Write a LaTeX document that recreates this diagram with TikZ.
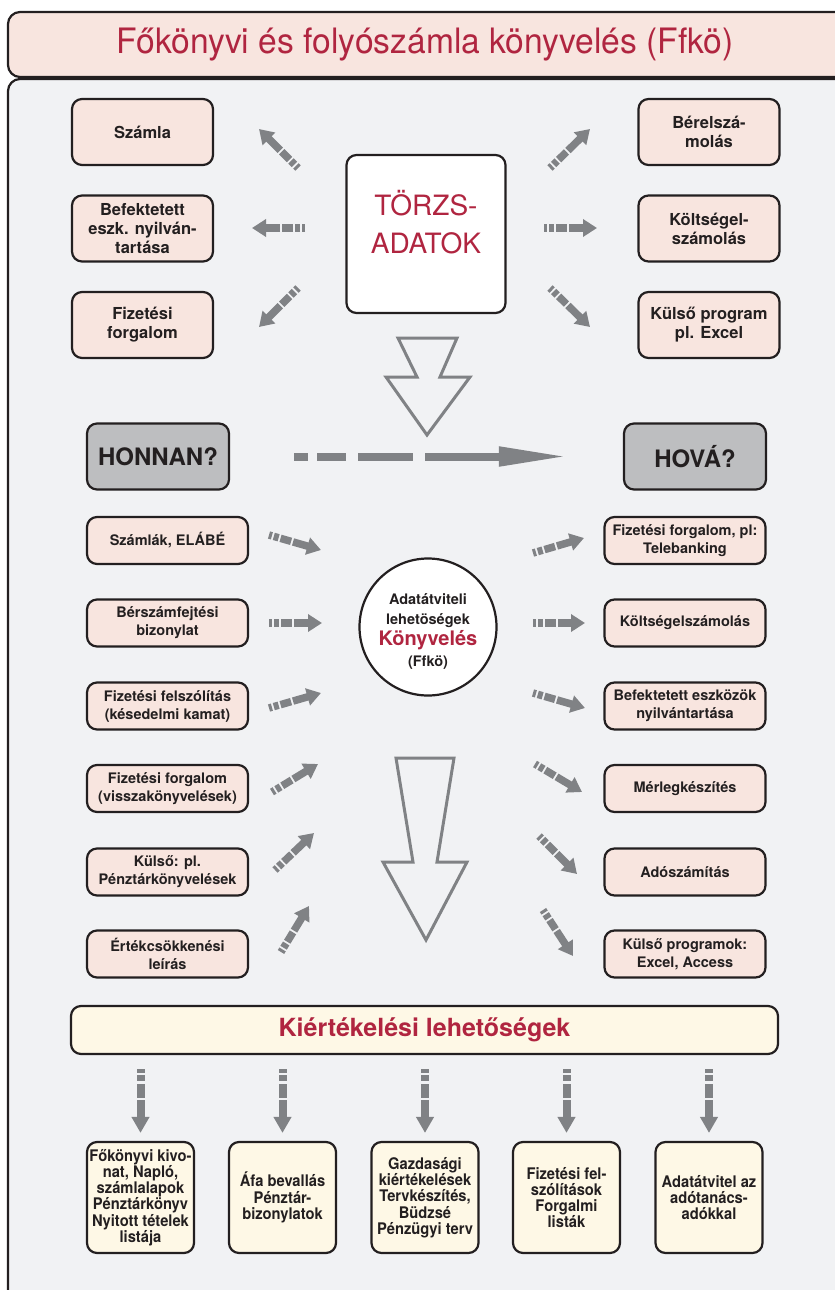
\documentclass[tikz,border=0pt]{standalone}
\usepackage{fontspec}
\setmainfont{TeX Gyre Heros}
\newfontfamily\condfont[FakeStretch=0.92]{TeX Gyre Heros}
\newfontfamily\titlefont[FakeStretch=0.96]{TeX Gyre Heros}
\usetikzlibrary{arrows.meta}

\definecolor{panelgray}{HTML}{F1F2F4}
\definecolor{boxpink}{HTML}{F8E5DF}
\definecolor{boxcream}{HTML}{FEF8E6}
\definecolor{boxgray}{HTML}{BDBEC0}
\definecolor{boxline}{HTML}{231F20}
\definecolor{titlered}{HTML}{B02540}
\definecolor{arrowgray}{HTML}{808285}

\begin{document}
\begin{tikzpicture}[x=1pt, y=-1pt, line join=round,
    box/.style={draw=boxline, line width=2.2pt, rounded corners=10pt, align=center, inner sep=1pt, text=boxline},
    topbox/.style={box, fill=boxpink, minimum width=141pt, minimum height=66pt, font=\bfseries\fontsize{16.5}{19}\selectfont},
    midbox/.style={box, fill=boxpink, minimum width=161pt, minimum height=47pt, font=\bfseries\fontsize{14.5}{18}\selectfont},
    askbox/.style={box, fill=boxgray, minimum width=142pt, minimum height=66pt, font=\bfseries\fontsize{24}{28}\selectfont},
    evalbox/.style={box, fill=boxcream, minimum width=107pt, minimum height=111pt, font=\condfont\bfseries\fontsize{16}{16.3}\selectfont},
    fatarrow/.style={draw=arrowgray, line width=7.5pt, -{Triangle[width=17pt,length=14pt]},
      dash pattern=on 3pt off 2pt on 5pt off 2pt on 11pt off 2pt on 80pt off 0pt},
    downarrow/.style={draw=arrowgray, line width=8pt, -{Triangle[width=17pt,length=16pt]},
      dash pattern=on 4pt off 2pt on 6pt off 3pt on 14pt off 2pt on 80pt off 0pt},
    hollow/.style={draw=arrowgray, line width=3pt, line join=miter}]
  \useasboundingbox (0,0) rectangle (835,1290);
  \clip (0,0) rectangle (835,1290);
  % Background
  \draw[fill=panelgray, draw=boxline, line width=2.2pt, rounded corners=12pt] (8,79) rectangle (870,1330);
  \draw[fill=boxpink, draw=boxline, line width=2.2pt, rounded corners=12pt] (8,12) rectangle (870,77);
  \node[text=titlered, font=\titlefont\fontsize{35}{38}\selectfont] (title) at (425,45) {Főkönyvi és folyószámla könyvelés (Ffkö)};

  % Nodes
  \node[box, fill=white, minimum width=159pt, minimum height=158pt] (torzs) at (426,234) {};
  \node[text=titlered, align=center, font=\fontsize{28}{38}\selectfont] (torzstext) at (426,222) {TÖRZS-\\ADATOK};

  \node[topbox] (szamla) at (142.5,132) {Számla};
  \node[topbox] (befekt) at (142.5,228.5) {Befektetett\\eszk. nyilván-\\tartása};
  \node[topbox] (fizforg) at (142.5,325) {Fizetési\\forgalom};
  \node[topbox] (berel) at (709,132) {Bérelszá-\\molás};
  \node[topbox] (koltseg) at (709,228.5) {Költségel-\\számolás};
  \node[topbox] (kulso) at (709,325) {Külső program\\pl. Excel};

  \node[askbox] (honnan) at (158,456.5) {HONNAN?};
  \node[askbox] (hova) at (695,456.5) {HOVÁ?};

  \node[box, circle, fill=white, minimum size=137pt, inner sep=0pt] (adatatvitel) at (428,627) {};
  \node[align=center, text=boxline, font=\bfseries\fontsize{14.5}{20}\selectfont] (adattext) at (428,631)
    {Adatátviteli\\lehetöségek\\[1pt]{\color{titlered}\fontsize{20}{22}\selectfont Könyvelés}\\[1pt](Ffkö)};

  \node[midbox] (szamlak) at (167.5,540.5) {Számlák, ELÁBÉ};
  \node[midbox] (berszam) at (167.5,623) {Bérszámfejtési\\bizonylat};
  \node[midbox] (felszol) at (167.5,706) {Fizetési felszólítás\\(késedelmi kamat)};
  \node[midbox] (visszak) at (167.5,788.5) {Fizetési forgalom\\(visszakönyvelések)};
  \node[midbox] (penztar) at (167.5,872) {Külső: pl.\\Pénztárkönyvelések};
  \node[midbox] (ertekcs) at (167.5,954) {Értékcsökkenési\\leírás};

  \node[midbox] (telebank) at (685,540.5) {Fizetési forgalom, pl:\\Telebanking};
  \node[midbox] (koltsel) at (685,623) {Költségelszámolás};
  \node[midbox] (eszkoz) at (685,706) {Befektetett eszközök\\nyilvántartása};
  \node[midbox] (merleg) at (685,788.5) {Mérlegkészítés};
  \node[midbox] (adoszam) at (685,872) {Adószámítás};
  \node[midbox] (kulsoprog) at (685,954) {Külső programok:\\Excel, Access};

  \node[box, fill=boxcream, minimum width=707pt, minimum height=48pt, text=titlered, font=\bfseries\fontsize{25}{28}\selectfont] (kiert) at (424.5,1030) {Kiértékelési lehetőségek};

  \node[evalbox] (fokonyv) at (140.5,1197.5) {Főkönyvi kivo-\\nat, Napló,\\számlalapok\\Pénztárkönyv\\Nyitott tételek\\listája};
  \node[evalbox] (afa) at (282.5,1197.5) {Áfa bevallás\\Pénztár-\\bizonylatok};
  \node[evalbox] (gazd) at (425,1197.5) {Gazdasági\\kiértékelések\\Tervkészítés,\\Büdzsé\\Pénzügyi terv};
  \node[evalbox] (felsz) at (566.5,1197.5) {Fizetési fel-\\szólítások\\Forgalmi\\listák};
  \node[evalbox] (adotan) at (709,1197.5) {Adatátvitel az\\adótanács-\\adókkal};

  % Hollow arrows
  \draw[hollow] (398,338) -- (457,338) -- (440,377) -- (470,377) -- (427,435) -- (386,377) -- (417,377) -- cycle;
  \draw[hollow] (396,758) -- (454,758) -- (437,862) -- (467,862) -- (426,940) -- (383,862) -- (413,862) -- cycle;

  % Arrows
  \draw[fatarrow] (298,168) -- (259,129);
  \draw[fatarrow] (305,228) -- (252,228);
  \draw[fatarrow] (298,288) -- (259,327);
  \draw[fatarrow] (550,168) -- (590,129);
  \draw[fatarrow] (544,228) -- (597,228);
  \draw[fatarrow] (550,288) -- (590,327);

  \draw[draw=arrowgray, line width=8pt, -{Triangle[width=18pt,length=70pt]},
    dash pattern=on 14pt off 9pt on 29pt off 12pt on 55pt off 12pt on 300pt off 0pt,
    shorten <=64pt, shorten >=54pt] (honnan.east) -- (hova.west);

  \draw[fatarrow] (269,535) -- (321,550);
  \draw[fatarrow] (269,623) -- (322,623);
  \draw[fatarrow] (269,708) -- (321,693);
  \draw[fatarrow] (272,792) -- (318,764);
  \draw[fatarrow] (275,870) -- (314,833);
  \draw[fatarrow] (281,952) -- (309,906);

  \draw[fatarrow] (533,553) -- (584,538);
  \draw[fatarrow] (533,623) -- (585,623);
  \draw[fatarrow] (533,693) -- (585,708);
  \draw[fatarrow] (535,764) -- (582,792);
  \draw[fatarrow] (539,836) -- (577,874);
  \draw[fatarrow] (543,910) -- (573,956);

  \draw[downarrow, shorten <=14pt, shorten >=8pt] (kiert.south -| fokonyv) -- (fokonyv.north);
  \draw[downarrow, shorten <=14pt, shorten >=8pt] (kiert.south -| afa) -- (afa.north);
  \draw[downarrow, shorten <=14pt, shorten >=8pt] (kiert.south -| gazd) -- (gazd.north);
  \draw[downarrow, shorten <=14pt, shorten >=8pt] (kiert.south -| felsz) -- (felsz.north);
  \draw[downarrow, shorten <=14pt, shorten >=8pt] (kiert.south -| adotan) -- (adotan.north);
\end{tikzpicture}
\end{document}
